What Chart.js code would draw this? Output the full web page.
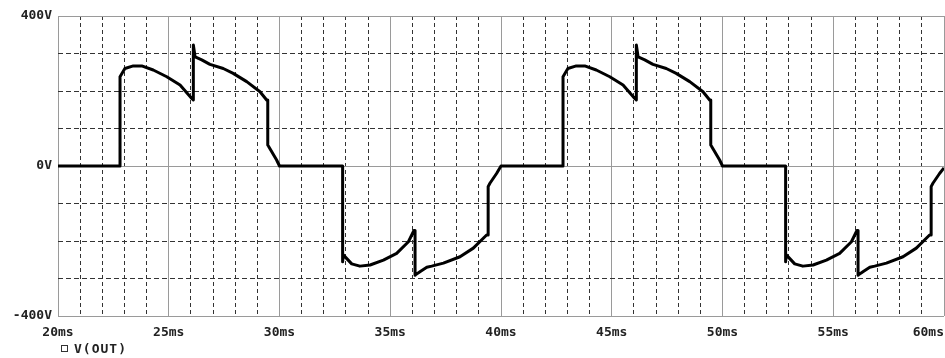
<!DOCTYPE html>
<html>
<head>
<meta charset="utf-8">
<script src="https://cdn.jsdelivr.net/npm/chart.js@4/dist/chart.umd.min.js"></script>
<style>
  html, body { margin: 0; padding: 0; background: #fff; }
  #wrap { position: relative; width: 945px; height: 358px; }
  #legend {
    position: absolute; left: 61px; top: 341px;
    font: bold 13px "DejaVu Sans Mono", monospace; color: #222;
    letter-spacing: 1px; white-space: nowrap;
  }
  #legend .box {
    display: inline-block; width: 5px; height: 5px;
    border: 1px solid #333; margin-right: 6px; vertical-align: 1px;
  }
</style>
</head>
<body>
<div id="wrap">
  <canvas id="chart" width="945" height="358"></canvas>
  <div id="legend"><span class="box"></span>V(OUT)</div>
</div>
<script>
// time axis (ms) and labelled ticks
const xMajorTicks = [20, 25, 30, 35, 40, 45, 50, 55, 60];
const xTickLabels = ['20ms', '25ms', '30ms', '35ms', '40ms', '45ms', '50ms', '55ms', '60ms'];
const yMajorTicks = [-400, 0, 400];
const yTickLabels = ['-400V', '0V', '400V'];

// V(OUT) trace: time in ms, voltage in V
const timeMs = [
    20, 22.80, 22.80, 23.02, 23.40, 23.78, 24.30, 24.91, 25.51, 26.04, 26.11, 26.11, 26.19,
    26.49, 26.86, 27.46, 27.91, 28.52, 29.12, 29.42, 29.47, 29.47, 29.87, 30.00,
    32.85, 32.85, 32.88, 33.26, 33.63, 34.09, 34.69, 35.29, 35.82, 36.07, 36.12, 36.12,
    36.34, 36.65, 36.87, 37.40, 38.15, 38.75, 39.35, 39.42, 39.42, 39.50, 39.80, 40.00,
    42.80, 42.80, 43.02, 43.40, 43.78, 44.30, 44.91, 45.51, 46.04, 46.11, 46.11, 46.19,
    46.49, 46.86, 47.46, 47.91, 48.52, 49.12, 49.42, 49.47, 49.47, 49.87, 50.00,
    52.85, 52.85, 52.88, 53.26, 53.63, 54.09, 54.69, 55.29, 55.82, 56.07, 56.12, 56.12,
    56.34, 56.65, 56.87, 57.40, 58.15, 58.75, 59.35, 59.42, 59.42, 59.50, 59.80, 60.00
];
const voltsOut = [
    0, 0, 238, 260, 267, 267, 256, 238, 216, 180, 176, 323, 291,
    283, 271, 260, 247, 225, 198, 176, 176, 56, 16, 0,
    0, -255, -237, -261, -267, -264, -251, -233, -202, -172, -172, -291,
    -282, -270, -267, -259, -242, -219, -184, -184, -55, -46, -20, 0,
    0, 238, 260, 267, 267, 256, 238, 216, 180, 176, 323, 291,
    283, 271, 260, 247, 225, 198, 176, 176, 56, 16, 0,
    0, -255, -237, -261, -267, -264, -251, -233, -202, -172, -172, -291,
    -282, -270, -267, -259, -242, -219, -184, -184, -55, -46, -20, -5
];

const points = timeMs.map((t, i) => ({ x: t, y: voltsOut[i] }));

const MONO = '"DejaVu Sans Mono", monospace';
const majorColor = '#9a9a9a';
const minorColor = '#333333';

const ctx = document.getElementById('chart').getContext('2d');
new Chart(ctx, {
    type: 'line',
    data: {
        datasets: [{
            label: 'V(OUT)',
            data: points,
            borderColor: '#000',
            borderWidth: 3,
            pointRadius: 0,
            tension: 0,
            borderJoinStyle: 'round',
            fill: false
        }]
    },
    options: {
        responsive: false,
        devicePixelRatio: 1,
        animation: false,
        layout: { padding: { top: 16, right: 1, left: 0, bottom: 0 } },
        plugins: {
            legend: { display: false },
            tooltip: { enabled: false }
        },
        scales: {
            x: {
                type: 'linear',
                min: 20,
                max: 60,
                afterFit: function(scale) {
                    scale.height = 42;
                    scale.paddingLeft = 0;
                    scale.paddingRight = 0;
                },
                border: {
                    display: false,
                    dash: c => xMajorTicks.includes(c.tick.value) ? [] : [4, 3]
                },
                grid: {
                    drawTicks: false,
                    color: c => xMajorTicks.includes(c.tick.value) ? majorColor : minorColor,
                    lineWidth: 1
                },
                ticks: {
                    stepSize: 1,
                    autoSkip: false,
                    maxRotation: 0,
                    padding: 9,
                    color: '#222',
                    font: { family: MONO, size: 13, weight: 'bold' },
                    callback: function(value) {
                        const i = xMajorTicks.indexOf(value);
                        if (i < 0) return '';
                        // last label sits inside the right edge
                        return i === xMajorTicks.length - 1 ? xTickLabels[i] + '    ' : xTickLabels[i];
                    }
                }
            },
            y: {
                min: -400,
                max: 400,
                afterFit: function(scale) {
                    scale.width = 58;
                },
                border: {
                    display: false,
                    dash: c => yMajorTicks.includes(c.tick.value) ? [] : [5, 3]
                },
                grid: {
                    drawTicks: false,
                    color: c => yMajorTicks.includes(c.tick.value) ? majorColor : minorColor,
                    lineWidth: 1
                },
                ticks: {
                    stepSize: 100,
                    autoSkip: false,
                    padding: 6,
                    color: '#222',
                    font: { family: MONO, size: 13, weight: 'bold' },
                    callback: function(value) {
                        const i = yMajorTicks.indexOf(value);
                        return i < 0 ? '' : yTickLabels[i];
                    }
                }
            }
        }
    }
});
</script>
</body>
</html>
